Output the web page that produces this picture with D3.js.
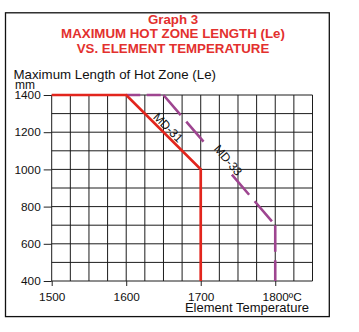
<!DOCTYPE html>
<html>
<head>
<meta charset="utf-8">
<script src="https://cdn.jsdelivr.net/npm/d3@7"></script>
<style>
  body { margin: 0; background: #fff; }
  svg { display: block; }
</style>
</head>
<body>
<script>
// ---- chart content ----
const titleLines = ["Graph 3", "MAXIMUM HOT ZONE LENGTH (Le)", "VS. ELEMENT TEMPERATURE"];
const yTitle = "Maximum Length of Hot Zone (Le)";
const yUnit = "mm";
const xTitle = "Element Temperature";
const xTickValues = [1500, 1600, 1700, 1800];
const xTickUnit = "ºC";
const yTickValues = [400, 600, 800, 1000, 1200, 1400];

// element curves: temperature (ºC) vs maximum hot zone length (mm)
const md31Temp = [1500, 1600, 1700, 1700];
const md31Len  = [1400, 1400, 1000, 400];
const md33Temp = [1600, 1650, 1800, 1800];
const md33Len  = [1400, 1400, 700, 400];

// where each curve name sits along its sloped segment (ºC)
const md31LabelAt = 1650;
const md33LabelAt = 1730;

// ---- layout ----
const W = 359, H = 332;
const font = "'Liberation Sans', Arial, Helvetica, sans-serif";
const red = "#e2251d", purple = "#9e4590", titleRed = "#e3302e";

const x = d3.scaleLinear().domain([1500, 1850]).range([51.7, 312.5]);
const y = d3.scaleLinear().domain([400, 1400]).range([281, 95]);

const svg = d3.select("body").append("svg").attr("width", W).attr("height", H);

// outer frame
svg.append("rect").attr("x", 5.5).attr("y", 12.8).attr("width", 323.8).attr("height", 303.8)
  .attr("fill", "none").attr("stroke", "#111").attr("stroke-width", 1.3);

// title
svg.append("g").selectAll("text").data(titleLines).join("text")
  .attr("x", 173).attr("y", (d, i) => [24, 38.3, 53.2][i])
  .attr("text-anchor", "middle")
  .attr("font-family", font).attr("font-weight", "bold").attr("font-size", 13.3)
  .attr("fill", titleRed).text(d => d);

// axis titles
svg.append("text").attr("x", 13.5).attr("y", 79).attr("font-family", font)
  .attr("font-size", 13.3).attr("fill", "#111").text(yTitle);
svg.append("text").attr("x", 15).attr("y", 88.5).attr("font-family", font)
  .attr("font-size", 12).attr("fill", "#111").text(yUnit);
svg.append("text").attr("x", 309).attr("y", 312.3).attr("text-anchor", "end")
  .attr("font-family", font).attr("font-size", 13).attr("fill", "#111").text(xTitle);

// grid: every 25 ºC and every 100 mm
const grid = svg.append("g").attr("stroke", "#1c1c1c").attr("stroke-width", 1);
grid.selectAll(".gv").data(d3.range(1500, 1850.1, 25)).join("line")
  .attr("x1", d => x(d)).attr("x2", d => x(d)).attr("y1", y(1400)).attr("y2", y(400));
grid.selectAll(".gh").data(d3.range(400, 1400.1, 100)).join("line")
  .attr("x1", x(1500)).attr("x2", x(1850)).attr("y1", d => y(d)).attr("y2", d => y(d));

// y axis ticks and labels
const yAxis = d3.axisLeft(y).tickValues(yTickValues).tickSize(8).tickPadding(3).tickFormat(d3.format("d"));
const gy = svg.append("g").attr("transform", `translate(${x(1500)},0)`).call(yAxis);
gy.select(".domain").remove();
gy.selectAll(".tick line").attr("stroke", "#222");
gy.selectAll(".tick text").attr("font-family", font).attr("font-size", 11.8).attr("fill", "#111");

// x axis ticks and labels
const xAxis = d3.axisBottom(x).tickValues(xTickValues).tickSize(5).tickPadding(7).tickFormat(d3.format("d"));
const gx = svg.append("g").attr("transform", `translate(0,${y(400)})`).call(xAxis);
gx.select(".domain").remove();
gx.selectAll(".tick line").attr("stroke", "#222");
gx.selectAll(".tick text").attr("font-family", font).attr("font-size", 11.8).attr("fill", "#111");
// unit after the last tick value, keeping the number centred on its tick
gx.selectAll(".tick text").filter(d => d === xTickValues[xTickValues.length - 1])
  .each(function () {
    const t = d3.select(this);
    const w = this.getComputedTextLength();
    t.attr("text-anchor", "start").attr("x", -w / 2);
    t.append("tspan").text(xTickUnit);
  });

// ---- curves ----
function segments(temps, lens) {
  const segs = [];
  for (let i = 0; i < temps.length - 1; i++) {
    segs.push({ x1: x(temps[i]), y1: y(lens[i]), x2: x(temps[i + 1]), y2: y(lens[i + 1]) });
  }
  return segs;
}

// point and angle on a curve at a given temperature (on its sloped segment)
function labelFrame(temps, lens, t) {
  const segs = segments(temps, lens);
  const s = segs.find(s => s.x2 > s.x1 && s.y2 > s.y1);
  const px = x(t);
  const f = (px - s.x1) / (s.x2 - s.x1);
  return { px, py: s.y1 + f * (s.y2 - s.y1), ang: Math.atan2(s.y2 - s.y1, s.x2 - s.x1) * 180 / Math.PI };
}

const f33 = labelFrame(md33Temp, md33Len, md33LabelAt);
const f31 = labelFrame(md31Temp, md31Len, md31LabelAt);

// mask clearing the MD-33 dashes behind its name
const defs = svg.append("defs");
const mask = defs.append("mask").attr("id", "md33-gap").attr("maskUnits", "userSpaceOnUse")
  .attr("x", 0).attr("y", 0).attr("width", W).attr("height", H);
mask.append("rect").attr("width", W).attr("height", H).attr("fill", "#fff");
mask.append("rect").attr("x", -29).attr("y", -6).attr("width", 42).attr("height", 12).attr("fill", "#000")
  .attr("transform", `translate(${f33.px},${f33.py}) rotate(${f33.ang})`);

// MD-33 — dashed, each segment restarting its dash pattern
const md33Dash = ["14,6.5", "26.5,8.5", "26.5,8.5"];
svg.append("g").attr("mask", "url(#md33-gap)")
  .selectAll("line").data(segments(md33Temp, md33Len)).join("line")
  .attr("x1", d => d.x1).attr("y1", d => d.y1).attr("x2", d => d.x2).attr("y2", d => d.y2)
  .attr("stroke", purple).attr("stroke-width", 2.6)
  .attr("stroke-dasharray", (d, i) => md33Dash[i]);

// MD-31 — solid
const md31Line = d3.line().x(d => x(d[0])).y(d => y(d[1]));
svg.append("path").datum(md31Temp.map((t, i) => [t, md31Len[i]]))
  .attr("d", md31Line).attr("fill", "none").attr("stroke", red)
  .attr("stroke-width", 2.7).attr("stroke-linejoin", "miter");

// curve names along the sloped segments
function curveLabel(fr, text, along) {
  svg.append("text")
    .attr("transform", `translate(${fr.px},${fr.py}) rotate(${fr.ang})`)
    .attr("x", along).attr("y", -2.4)
    .attr("text-anchor", "middle")
    .attr("font-family", font).attr("font-size", 12).attr("fill", "#111")
    .text(text);
}
curveLabel(f31, "MD-31", 0);
curveLabel(f33, "MD-33", 0);
</script>
</body>
</html>
